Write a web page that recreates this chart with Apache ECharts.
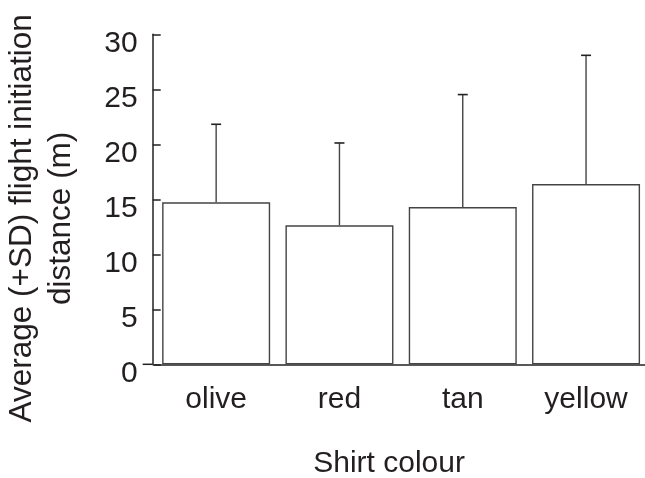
<!DOCTYPE html>
<html>
<head>
<meta charset="utf-8">
<script src="https://cdn.jsdelivr.net/npm/echarts@6/dist/echarts.min.js"></script>
<style>
html,body{margin:0;padding:0;background:#fff;}
#chart{width:645px;height:478px;}
</style>
</head>
<body>
<div id="chart"></div>
<script>
var categories = ['olive', 'red', 'tan', 'yellow'];
var means = [14.73, 12.64, 14.3, 16.39];
var sds = [7.09, 7.48, 10.22, 11.7];
var yTicks = [0, 5, 10, 15, 20, 25, 30];

var FONT = '"Liberation Sans", Arial, Helvetica, sans-serif';
var chart = echarts.init(document.getElementById('chart'), null, {renderer: 'canvas'});

var errData = categories.map(function (c, i) { return [i, means[i], means[i] + sds[i]]; });

var option = {
  animation: false,
  backgroundColor: '#ffffff',
  grid: {left: 154.5, right: -2.7, top: 34.3, bottom: 113.7, containLabel: false, outerBoundsMode: 'none'},
  xAxis: {
    type: 'category',
    data: categories,
    boundaryGap: true,
    axisLine: {show: true, lineStyle: {color: '#222', width: 1.5}},
    axisTick: {show: false},
    axisLabel: {fontFamily: FONT, fontSize: 30, color: '#231f20', margin: 20},
    name: 'Shirt colour',
    nameLocation: 'middle',
    nameGap: 84,
    nameTextStyle: {fontFamily: FONT, fontSize: 30, color: '#231f20', padding: [0, 24, 0, 0]}
  },
  yAxis: {
    type: 'value',
    min: yTicks[0],
    max: yTicks[yTicks.length - 1],
    interval: 5,
    offset: 1.8,
    splitLine: {show: false},
    axisLine: {show: true, lineStyle: {color: '#222', width: 1.5}},
    axisTick: {show: true, inside: true, length: 8, lineStyle: {color: '#222', width: 1.5}},
    axisLabel: {fontFamily: FONT, fontSize: 30, color: '#231f20', margin: 15, verticalAlign: 'top', lineHeight: 18},
    name: 'Average (+SD) flight initiation\ndistance (m)',
    nameLocation: 'middle',
    nameRotate: 90,
    nameGap: 72,
    nameTextStyle: {fontFamily: FONT, fontSize: 31.5, color: '#231f20', lineHeight: 39, padding: [0, 38, 0, 0]}
  },
  series: [
    {
      type: 'bar',
      data: means,
      barWidth: 108,
      itemStyle: {color: '#ffffff', borderColor: '#444', borderWidth: 1.4},
      z: 2
    },
    {
      type: 'custom',
      data: errData,
      z: 3,
      renderItem: function (params, api) {
        var x = api.value(0);
        var lo = api.coord([x, api.value(1)]);
        var hi = api.coord([x, api.value(2)]);
        var cap = 5;
        return {
          type: 'group',
          children: [
            {type: 'line', shape: {x1: lo[0], y1: lo[1], x2: hi[0], y2: hi[1]}, style: {stroke: '#444', lineWidth: 1.4}},
            {type: 'line', shape: {x1: hi[0] - cap, y1: hi[1], x2: hi[0] + cap, y2: hi[1]}, style: {stroke: '#222', lineWidth: 1.6}}
          ]
        };
      }
    }
  ]
};
chart.setOption(option);

// extend x-axis line slightly to the left of the y-axis, as in the reference
var p0 = chart.convertToPixel({gridIndex: 0}, [0, 0]);
var yAxisX = 154.5 - 1.8;
chart.setOption({
  graphic: [{
    type: 'line',
    shape: {x1: yAxisX - 10, y1: p0[1], x2: yAxisX, y2: p0[1]},
    style: {stroke: '#222', lineWidth: 1.5},
    z: 10
  }]
});
</script>
</body>
</html>
